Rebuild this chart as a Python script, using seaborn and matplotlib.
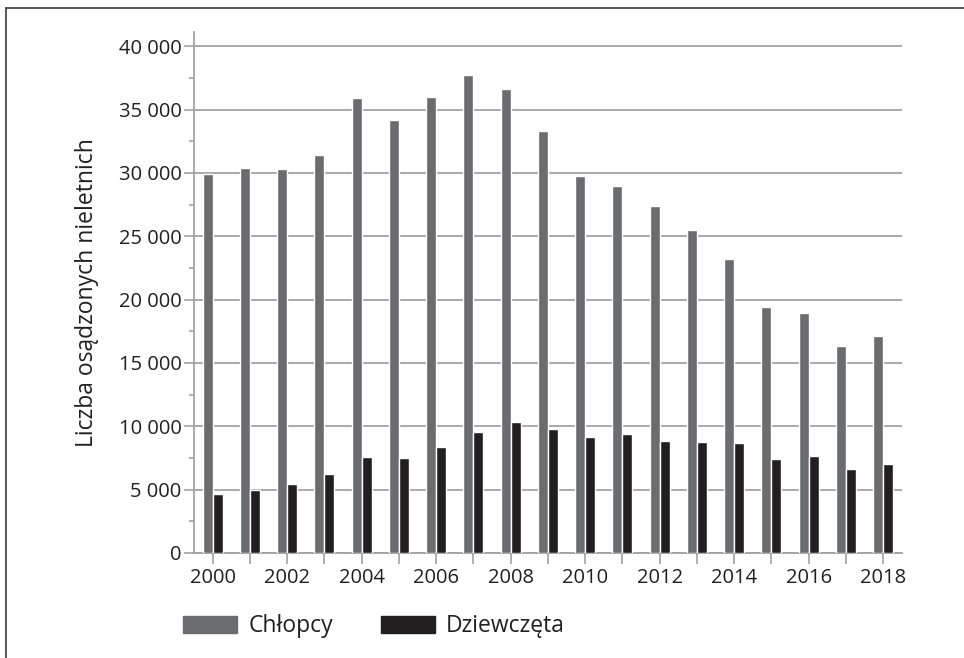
import numpy as np
import pandas as pd
import matplotlib
matplotlib.use("Agg")
import matplotlib.pyplot as plt
import seaborn as sns
from matplotlib.lines import Line2D
from matplotlib.ticker import FuncFormatter, MultipleLocator

# ----- Data -----
years = list(range(2000, 2019))
chlopcy = [29900, 30360, 30280, 31450, 35950, 34140, 36030, 37710, 36640, 33340,
           29720, 29000, 27350, 25460, 23200, 19390, 18930, 16320, 17120]
dziewczeta = [4660, 4980, 5460, 6230, 7590, 7510, 8360, 9560, 10330, 9800,
              9160, 9400, 8840, 8760, 8680, 7430, 7670, 6630, 7030]
series_names = ["Chłopcy", "Dziewczęta"]
colors = ["#6b6c70", "#231f20"]

df = pd.DataFrame({
    "rok": [str(y) for y in years] * 2,
    "liczba": chlopcy + dziewczeta,
    "płeć": [series_names[0]] * len(years) + [series_names[1]] * len(years),
})

sns.set_theme(style="white")
plt.rcParams["font.family"] = ["Open Sans", "DejaVu Sans"]

grid_c = "#a2a2a4"
text_c = "#231f20"

fig = plt.figure(figsize=(9.64, 6.58), dpi=100)
ax = fig.add_axes([0.2012, 0.1596, 0.7342, 0.7913])

sns.barplot(data=df, x="rok", y="liczba", hue="płeć", palette=colors,
            width=0.54, saturation=1, ax=ax, legend=False, zorder=3)

ax.set_xlim(-0.5, 18.5)
ax.set_ylim(0, 41100)

# ----- Axes styling -----
ax.yaxis.set_major_locator(MultipleLocator(5000))
ax.yaxis.set_minor_locator(MultipleLocator(2500))
ax.yaxis.set_major_formatter(FuncFormatter(lambda v, p: f"{v:,.0f}".replace(",", " ")))
ax.set_xticks(range(len(years)))
ax.set_xticklabels([str(y) if y % 2 == 0 else "" for y in years])

ax.grid(axis="y", color=grid_c, linewidth=1.3, zorder=0)
ax.set_axisbelow(True)
for s in ["top", "right"]:
    ax.spines[s].set_visible(False)
for s in ["left", "bottom"]:
    ax.spines[s].set_color(grid_c)
    ax.spines[s].set_linewidth(1.3)

ax.tick_params(axis="y", which="major", length=7, width=1.2, color=grid_c,
               labelsize=14.5, labelcolor=text_c, left=True, pad=2)
ax.tick_params(axis="y", which="minor", length=3.5, width=1.2, color=grid_c, left=True)
ax.tick_params(axis="x", which="major", length=8, width=1.2, color=grid_c,
               labelsize=14.5, labelcolor=text_c, bottom=True, pad=3)

ax.set_xlabel("")
ax.set_ylabel("Liczba osądzonych nieletnich", fontsize=16.5, color=text_c, labelpad=14)

# ----- Legend -----
handles = [plt.Rectangle((0, 0), 1, 1, color=c) for c in colors]
fig.legend(handles, series_names, loc="center left", bbox_to_anchor=(0.19, 0.048),
           ncol=2, frameon=False, fontsize=16.5, handlelength=2.36, handleheight=0.8,
           handletextpad=0.48, columnspacing=2.1, borderpad=0, borderaxespad=0,
           labelcolor=text_c)

# ----- Frame (top and left edge) -----
fig.add_artist(Line2D([6 / 964, 1], [1 - 7.5 / 658, 1 - 7.5 / 658],
                      color="#3a3a3a", linewidth=1.2, transform=fig.transFigure))
fig.add_artist(Line2D([6 / 964, 6 / 964], [0, 1 - 7.5 / 658],
                      color="#3a3a3a", linewidth=1.2, transform=fig.transFigure))

fig.savefig("out.png", dpi=100)
